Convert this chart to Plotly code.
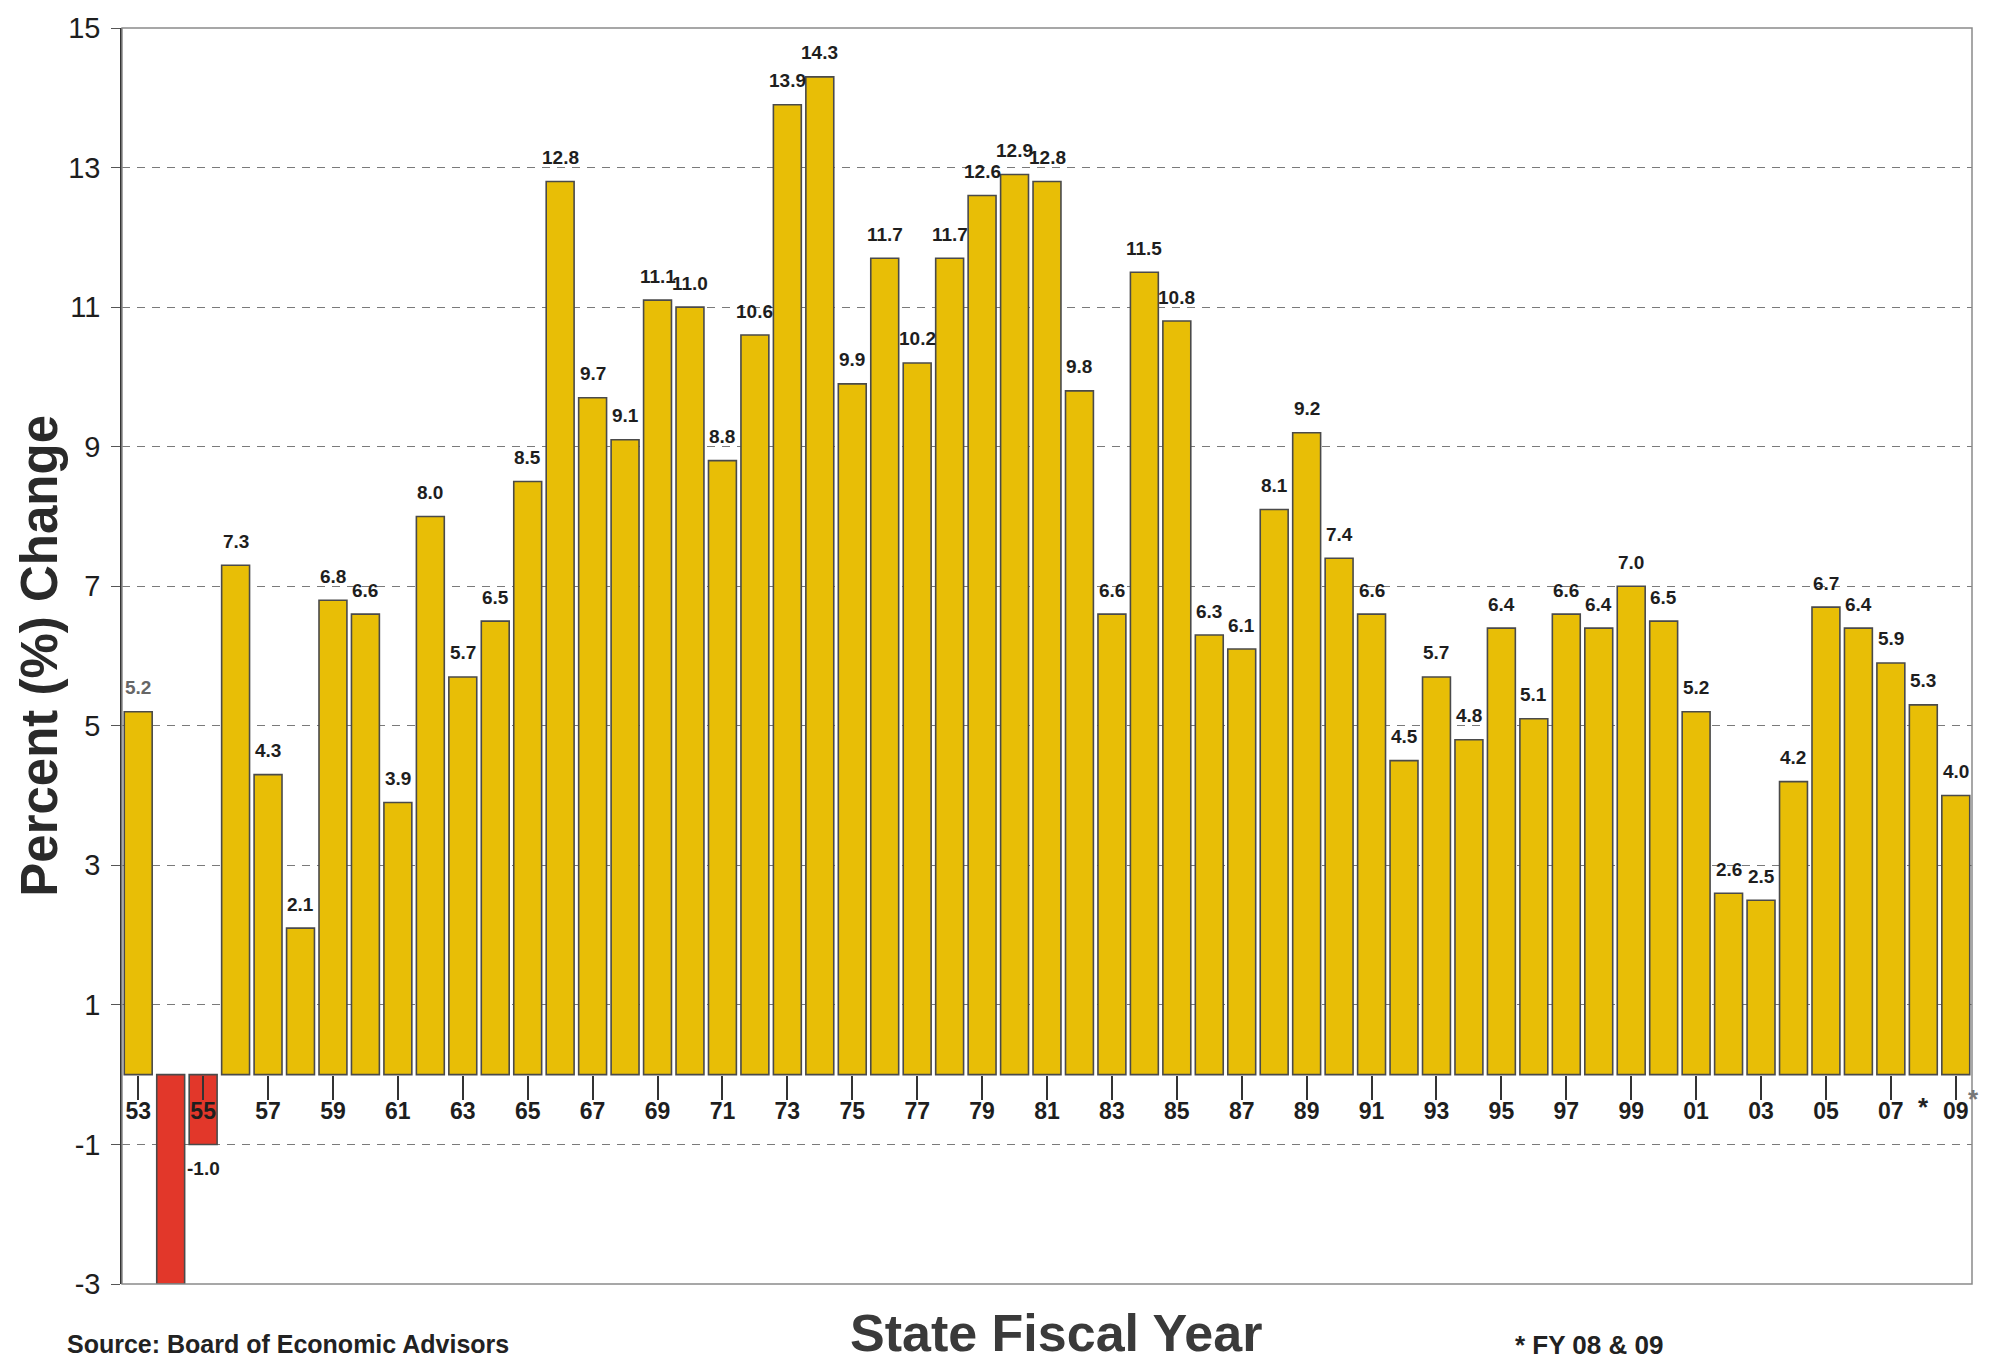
import plotly.graph_objects as go

# Fiscal years (two-digit labels) and annual percent change
years = ["53", "54", "55", "56", "57", "58", "59",
         "60", "61", "62", "63", "64", "65", "66", "67", "68", "69",
         "70", "71", "72", "73", "74", "75", "76", "77", "78", "79",
         "80", "81", "82", "83", "84", "85", "86", "87", "88", "89",
         "90", "91", "92", "93", "94", "95", "96", "97", "98", "99",
         "00", "01", "02", "03", "04", "05", "06", "07", "08", "09"]
pct_change = [5.2, -3.0, -1.0, 7.3, 4.3, 2.1, 6.8,
              6.6, 3.9, 8.0, 5.7, 6.5, 8.5, 12.8, 9.7, 9.1, 11.1,
              11.0, 8.8, 10.6, 13.9, 14.3, 9.9, 11.7, 10.2, 11.7, 12.6,
              12.9, 12.8, 9.8, 6.6, 11.5, 10.8, 6.3, 6.1, 8.1, 9.2,
              7.4, 6.6, 4.5, 5.7, 4.8, 6.4, 5.1, 6.6, 6.4, 7.0,
              6.5, 5.2, 2.6, 2.5, 4.2, 6.7, 6.4, 5.9, 5.3, 4.0]
# years shown on the axis, and estimated years flagged with an asterisk
labelled_years = ["53", "55", "57", "59", "61", "63", "65", "67", "69",
                  "71", "73", "75", "77", "79", "81", "83", "85", "87", "89",
                  "91", "93", "95", "97", "99", "01", "03", "05", "07", "09"]
estimated_years = ["08", "09"]
y_ticks = [-3, -1, 1, 3, 5, 7, 9, 11, 13, 15]
y_tick_text = ["-3", "-1", "1", "3", "5", "7", "9", "11", "13", "15"]
y_min, y_max = -3, 15

FONT = "Liberation Sans, Arial, sans-serif"
GOLD = "#E8BE06"
RED = "#E2372A"
EDGE = "#4A4A4A"

x = list(range(len(years)))
colors = [RED if v < 0 else GOLD for v in pct_change]

fig = go.Figure()
fig.add_trace(go.Bar(
    x=x, y=pct_change,
    marker=dict(color=colors, line=dict(color=EDGE, width=1.6)),
    hoverinfo="skip",
))

# value labels just beyond the end of each bar
annotations = []
for i, v in enumerate(pct_change):
    if v <= y_min:
        continue
    annotations.append(dict(
        x=i, y=v, xref="x", yref="y", text=f"{v:.1f}", showarrow=False,
        yshift=24 if v >= 0 else -24, yanchor="middle", xanchor="center",
        font=dict(family=FONT, size=19, color="#666" if i == 0 else "#1e1e1e", weight="bold"),
    ))

# asterisks marking estimated years
for yr, dx in zip(estimated_years, [0, 18]):
    annotations.append(dict(
        x=years.index(yr), y=0, xref="x", yref="y", text="*", showarrow=False,
        xshift=dx, yshift=-32 if dx == 0 else -24, yanchor="middle",
        font=dict(family=FONT, size=26, color="#222" if dx == 0 else "#777", weight="bold"),
    ))

annotations += [
    dict(x=-0.045, y=0.5, xref="paper", yref="paper", text="Percent (%) Change",
         textangle=-90, showarrow=False, xanchor="center", yanchor="middle",
         font=dict(family=FONT, size=51, color="#2a2a2a", weight="bold")),
    dict(x=0.505, y=-0.014, xref="paper", yref="paper", text="State Fiscal Year",
         showarrow=False, xanchor="center", yanchor="top",
         font=dict(family=FONT, size=52, color="#3a3a3a", weight="bold")),
    dict(x=-0.031, y=-0.035, xref="paper", yref="paper", text="Source: Board of Economic Advisors",
         showarrow=False, xanchor="left", yanchor="top",
         font=dict(family=FONT, size=25, color="#222", weight="bold")),
    dict(x=0.752, y=-0.035, xref="paper", yref="paper", text="* FY 08 & 09",
         showarrow=False, xanchor="left", yanchor="top",
         font=dict(family=FONT, size=26, color="#222", weight="bold")),
]

fig.update_layout(
    width=1995, height=1364,
    margin=dict(l=122, r=23, t=23, b=80),
    paper_bgcolor="white", plot_bgcolor="white",
    showlegend=False, bargap=0.14,
    annotations=annotations,
    shapes=[dict(type="rect", xref="paper", yref="paper", x0=0, y0=0, x1=1, y1=1,
                 line=dict(color="#8a8a8a", width=1.5), layer="above")],
)

fig.update_yaxes(
    range=[y_min, y_max], tickvals=y_ticks, ticktext=y_tick_text,
    ticks="outside", ticklen=9, tickcolor="#555", tickwidth=1.2,
    showline=True, linecolor="#333", linewidth=1.5, layer="above traces",
    showgrid=True, gridcolor="#7a7a7a", gridwidth=1, griddash="8px,7px",
    zeroline=False, ticklabelstandoff=5,
    tickfont=dict(family=FONT, size=29, color="#1e1e1e"),
)

fig.update_xaxes(
    range=[-0.5, len(years) - 0.5],
    anchor="free", position=(0 - y_min) / (y_max - y_min),
    tickvals=[years.index(y) for y in labelled_years], ticktext=labelled_years,
    ticks="outside", ticklen=24, tickcolor="#333", tickwidth=1.5,
    showline=False, showgrid=False, zeroline=False, ticklabelstandoff=-8,
    tickfont=dict(family=FONT, size=23, color="#1e1e1e", weight="bold"),
)

fig.write_html("out.html")
